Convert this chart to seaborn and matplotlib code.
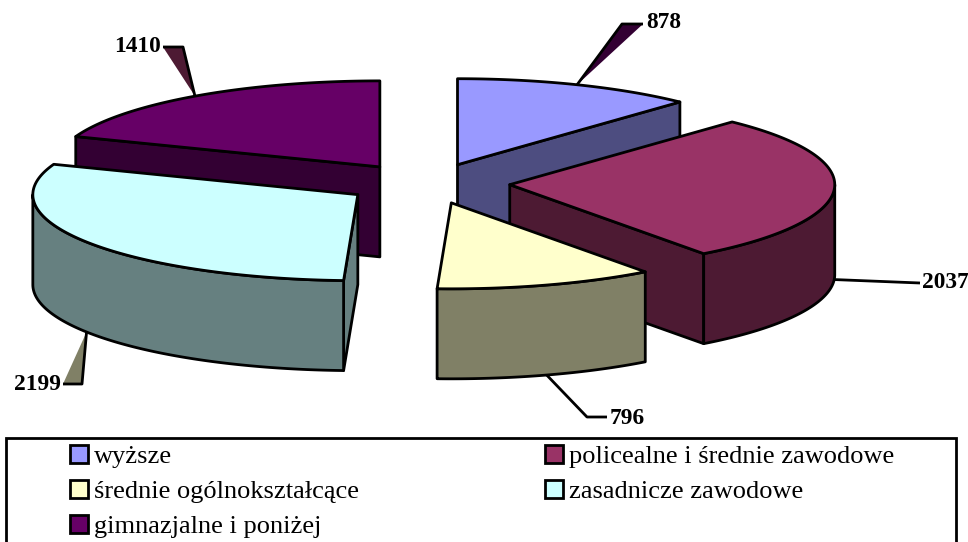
"""Exploded 3D-look pie of education levels, drawn as projected polygons."""
import numpy as np
import matplotlib
matplotlib.use("Agg")
import matplotlib.pyplot as plt
from matplotlib.patches import Patch, Polygon, Rectangle
import seaborn as sns

categories = ["wyższe", "policealne i średnie zawodowe", "średnie ogólnokształcące",
              "zasadnicze zawodowe", "gimnazjalne i poniżej"]
values = [878, 2037, 796, 2199, 1410]
face_colors = ["#9999FF", "#993366", "#FFFFCC", "#CCFFFF", "#660066"]
leader_fills = ["#330033", None, None, "#808066", "#4D1A33"]

# layout in reference pixels
CX, CY = 427, 183.5
RX, RY = 325, 86
EXPLODE_X, EXPLODE_Y = 0.255, 0.235
DEPTH = 90
LW = 2.0
# leader elbow, leader end, label anchor, per slice
LEADERS = [((622, 24), (643, 24), (646, 23), "left"),
           (None, (920, 283), (922, 282), "left"),
           ((587, 417), (607, 417), (610, 418), "left"),
           ((82, 384), (63, 384), (61, 385), "right"),
           ((183, 47), (163, 47), (161, 47), "right")]

sns.set_theme(style="white")
plt.rcParams["font.family"] = ["Liberation Serif", "DejaVu Serif"]
palette = sns.color_palette(face_colors)
shades = [tuple(c * 0.5 for c in col) for col in palette]


def rim(theta):
    return np.column_stack([RX * np.sin(theta), -RY * np.cos(theta)])


def main():
    fig = plt.figure(figsize=(9.68, 5.42), dpi=100)
    ax = fig.add_axes([0, 0, 1, 1])
    ax.set_xlim(0, 968)
    ax.set_ylim(542, 0)
    ax.axis("off")

    shares = np.array(values) / sum(values) * 2 * np.pi
    ends = np.cumsum(shares)
    starts = ends - shares
    mids = (starts + ends) / 2
    apexes = np.column_stack([CX + EXPLODE_X * RX * np.sin(mids), CY - EXPLODE_Y * RY * np.cos(mids)])
    drop = np.array([0, DEPTH])
    style = dict(edgecolor="black", linewidth=LW, joinstyle="round")

    # back slices first, so the front ones paint over them
    for z, i in enumerate(np.argsort(apexes[:, 1]), start=2):
        apex = apexes[i]
        arc = apex + rim(np.linspace(starts[i], ends[i], 120))
        # only the cut faces turned towards the viewer get drawn
        if np.sin(starts[i]) < -1e-6:
            ax.add_patch(Polygon([apex, arc[0], arc[0] + drop, apex + drop],
                                 facecolor=shades[i], zorder=z, **style))
        if np.sin(ends[i]) > 1e-6:
            ax.add_patch(Polygon([apex, arc[-1], arc[-1] + drop, apex + drop],
                                 facecolor=shades[i], zorder=z, **style))
        lo, hi = max(starts[i], np.pi / 2), min(ends[i], 3 * np.pi / 2)
        if lo < hi:
            front = apex + rim(np.linspace(lo, hi, 120))
            ax.add_patch(Polygon(np.vstack([front, (front + drop)[::-1]]),
                                 facecolor=shades[i], zorder=z, **style))
        ax.add_patch(Polygon(np.vstack([apex, arc]), facecolor=palette[i], zorder=z, **style))

    # leaders and value labels, anchored on the slice edge at its mid angle
    for i, (elbow, end, pos, ha) in enumerate(LEADERS):
        anchor = apexes[i] + rim(mids[i])[0]
        if np.cos(mids[i]) < 0:
            anchor = anchor + drop
        pts = [anchor] + ([elbow] if elbow else []) + [end]
        if leader_fills[i]:
            ax.add_patch(Polygon(pts, facecolor=leader_fills[i], edgecolor="none", zorder=10))
        xs, ys = zip(*pts)
        ax.plot(xs, ys, color="black", lw=LW, zorder=11, solid_capstyle="butt")
        ax.text(pos[0], pos[1], str(values[i]), ha=ha, va="center", fontsize=16.8,
                fontweight="bold", color="black", zorder=12)

    # legend box runs off the bottom edge of the figure
    ax.add_patch(Rectangle((6, 438), 950, 120, facecolor="white", edgecolor="black",
                           linewidth=LW, zorder=1))
    order = [0, 2, 4, 1, 3]
    handles = [Patch(facecolor=palette[i], edgecolor="black", linewidth=LW, label=categories[i])
               for i in order]
    ax.legend(handles=handles, ncol=2, loc="upper left", bbox_to_anchor=(70 / 968, 1 - 445 / 542),
              frameon=False, fontsize=19, labelcolor="black", handlelength=0.68, handleheight=0.68,
              handletextpad=0.23, labelspacing=0.445, columnspacing=7.05, borderpad=0, borderaxespad=0)

    fig.savefig("out.png", dpi=100)


if __name__ == "__main__":
    main()
